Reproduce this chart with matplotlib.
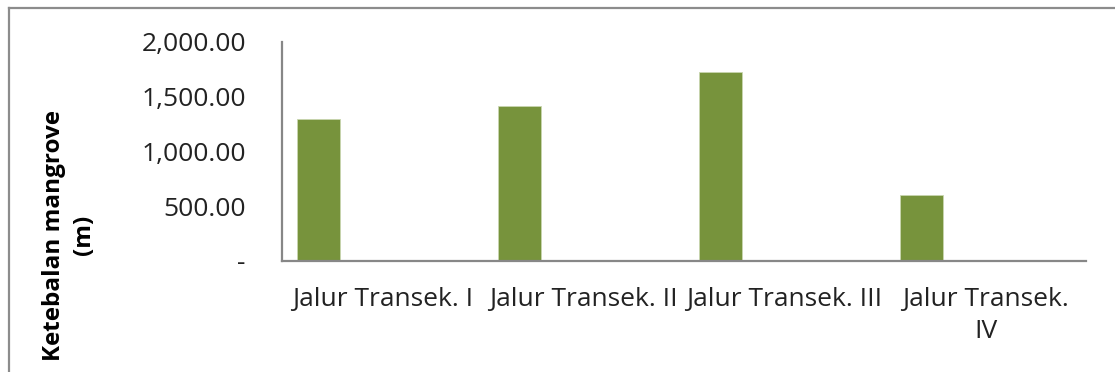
import matplotlib
matplotlib.use("Agg")
import matplotlib.pyplot as plt
from matplotlib.lines import Line2D
from matplotlib.ticker import FuncFormatter

categories = ["Jalur Transek. I", "Jalur Transek. II", "Jalur Transek. III",
              "Jalur Transek.\nIV"]
ketebalan = [1300, 1420, 1730, 600]
yticks = [0, 500, 1000, 1500, 2000]

plt.rcParams["font.family"] = ["Open Sans", "DejaVu Sans"]

fig = plt.figure(figsize=(11.15, 3.72), dpi=100)
ax = fig.add_axes([0.2529, 0.2984, 0.7211, 0.5887])

# Excel puts this series first of four in each slot; only it has values
x = range(len(categories))
pos = [i - 0.318 for i in x]
ax.bar(pos, ketebalan, width=0.214, color="#77933C", edgecolor="#c9d6b0",
       linewidth=0.6)

ax.set_xlim(-0.5, len(categories) - 0.5)
ax.set_ylim(0, 2000)
ax.set_yticks(yticks)
ax.yaxis.set_major_formatter(FuncFormatter(
    lambda v, p: "-" if v == 0 else "{:,.2f}".format(v)))
ax.set_xticks(list(x))
ax.set_xticklabels(categories, linespacing=1.35, va="top")
ax.tick_params(axis="both", length=0, labelsize=19, colors="#222222")
ax.tick_params(axis="x", pad=19)
ax.tick_params(axis="y", pad=26)

for s in ["top", "right"]:
    ax.spines[s].set_visible(False)
for s in ["left", "bottom"]:
    ax.spines[s].set_color("#878787")
    ax.spines[s].set_linewidth(1.6)

fig.text(0.062, 0.368, "Ketebalan mangrove\n(m)", rotation=90,
         fontsize=17.5, fontweight="bold", ha="center", va="center",
         multialignment="center", linespacing=1.3)

# chart area border (left and top edges visible in the crop)
fig.add_artist(Line2D([9 / 1115, 9 / 1115], [0, 1 - 8 / 372],
                      transform=fig.transFigure, color="#8c8c8c", lw=1.6))
fig.add_artist(Line2D([9 / 1115, 1], [1 - 8 / 372, 1 - 8 / 372],
                      transform=fig.transFigure, color="#8c8c8c", lw=1.6))

fig.savefig("out.png", dpi=100)
